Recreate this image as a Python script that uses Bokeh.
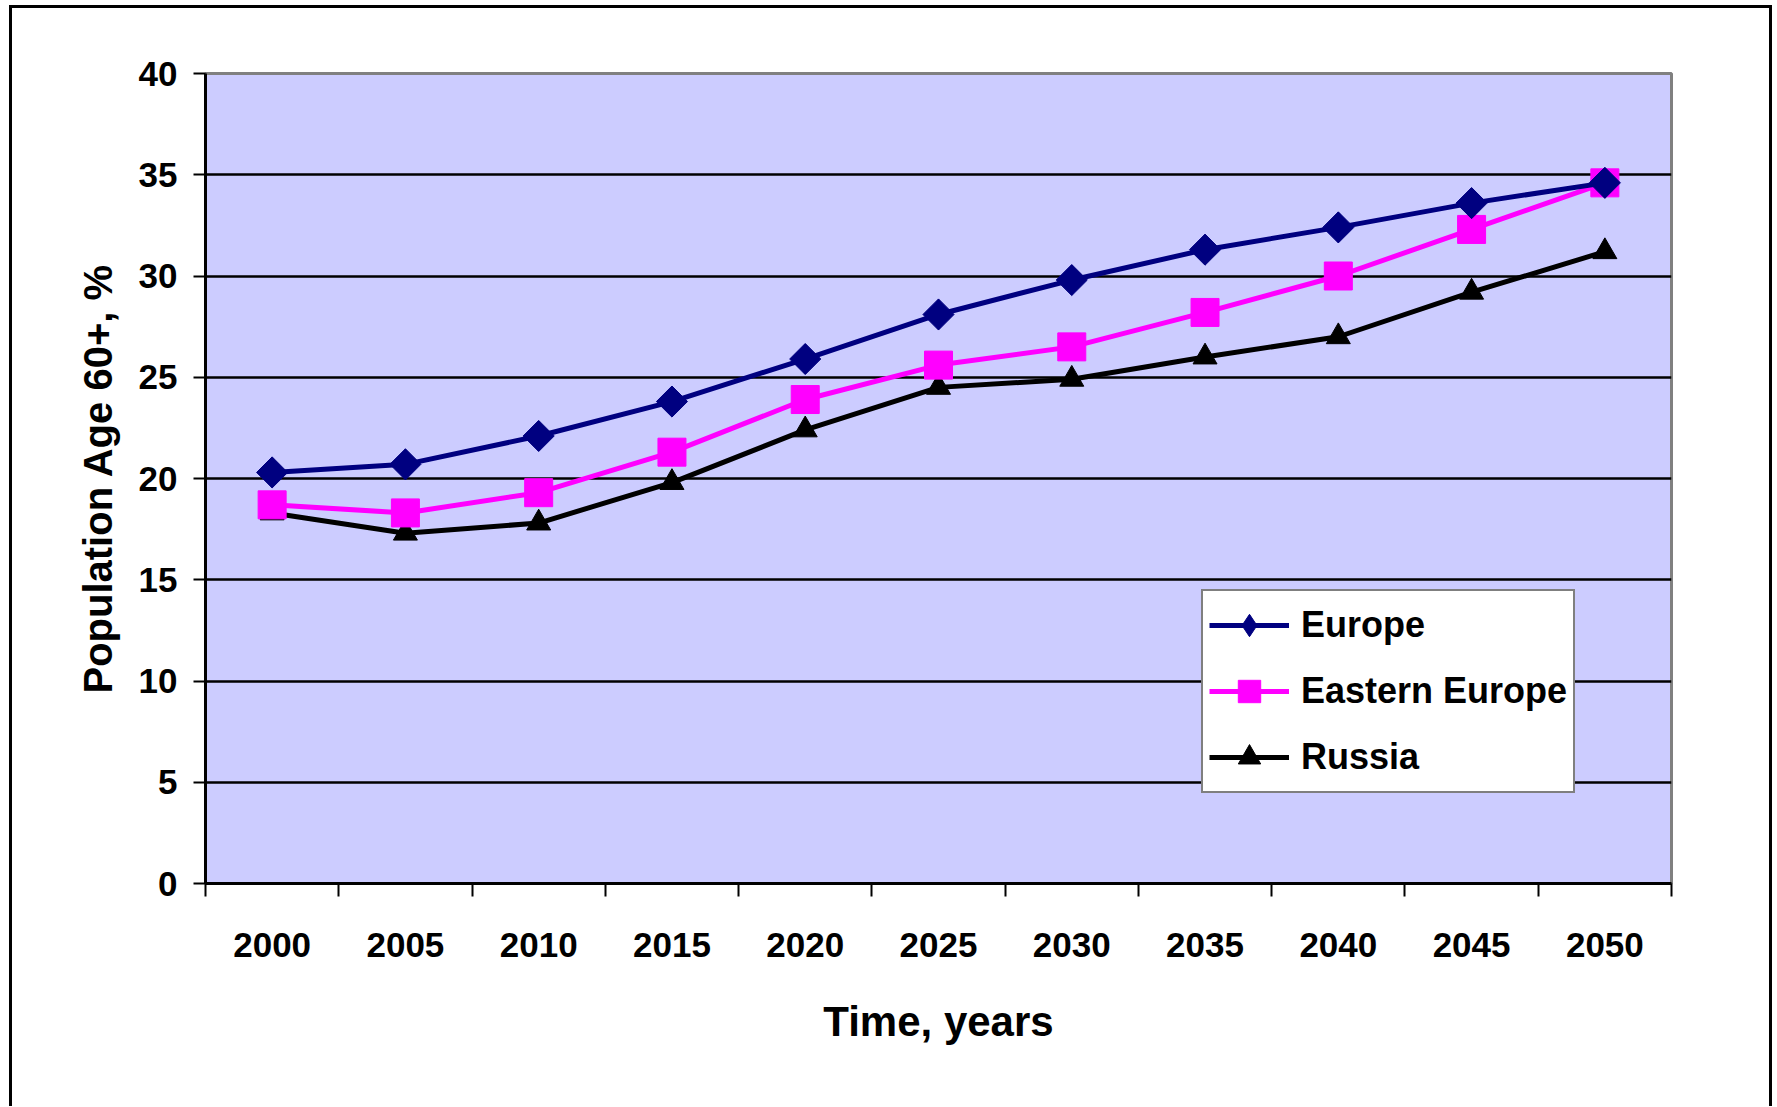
from bokeh.plotting import figure
from bokeh.models import FixedTicker, Legend, LegendItem, ColumnDataSource
from bokeh.embed import file_html
from bokeh.resources import INLINE
import math

years = ["2000", "2005", "2010", "2015", "2020", "2025", "2030", "2035", "2040", "2045", "2050"]
europe = [20.3, 20.7, 22.1, 23.8, 25.9, 28.1, 29.8, 31.3, 32.4, 33.6, 34.6]
eastern_europe = [18.7, 18.3, 19.3, 21.3, 23.9, 25.6, 26.5, 28.2, 30.0, 32.3, 34.6]
russia = [18.3, 17.3, 17.8, 19.8, 22.4, 24.5, 24.9, 26.0, 27.0, 29.2, 31.2]
y_ticks = [0, 5, 10, 15, 20, 25, 30, 35, 40]

xpos = [i + 0.5 for i in range(len(years))]
FONT = "Liberation Sans"

p = figure(frame_width=1466, frame_height=810,
           x_range=(0, len(years)), y_range=(0, 40),
           output_backend="svg", toolbar_location=None,
           min_border_left=193, min_border_right=98,
           min_border_top=65, min_border_bottom=223,
           background_fill_color="#CCCCFF", border_fill_color="white")
p.styles = {"border-left": "3px solid black", "border-top": "3px solid black",
            "border-right": "3px solid black",
            "margin-left": "9px", "margin-top": "5px"}

p.outline_line_color = "#808080"
p.outline_line_width = 3

p.xgrid.visible = False
p.ygrid.ticker = FixedTicker(ticks=y_ticks[1:-1])
p.ygrid.grid_line_color = "black"
p.ygrid.grid_line_width = 2.5

# x axis
xa = p.xaxis[0]
xa.ticker = FixedTicker(ticks=xpos, minor_ticks=list(range(len(years) + 1)))
xa.major_label_overrides = {x: y for x, y in zip(xpos, years)}
xa.major_tick_line_color = None
xa.major_tick_out = 0
xa.major_tick_in = 0
xa.minor_tick_line_color = "black"
xa.minor_tick_line_width = 2
xa.minor_tick_out = 13
xa.minor_tick_in = 0
xa.axis_line_color = "black"
xa.axis_line_width = 3
xa.major_label_text_font = FONT
xa.major_label_text_font_style = "bold"
xa.major_label_text_font_size = "35px"
xa.major_label_text_color = "black"
xa.major_label_standoff = 36
xa.axis_label = "Time, years"
xa.axis_label_text_font = FONT
xa.axis_label_text_font_style = "bold"
xa.axis_label_text_font_size = "42px"
xa.axis_label_text_color = "black"
xa.axis_label_standoff = 38

# y axis
ya = p.yaxis[0]
ya.ticker = FixedTicker(ticks=y_ticks)
ya.major_tick_line_color = "black"
ya.major_tick_line_width = 2
ya.major_tick_out = 12
ya.major_tick_in = 0
ya.minor_tick_line_color = None
ya.axis_line_color = "black"
ya.axis_line_width = 3
ya.major_label_text_font = FONT
ya.major_label_text_font_style = "bold"
ya.major_label_text_font_size = "35px"
ya.major_label_text_color = "black"
ya.major_label_standoff = 16
ya.axis_label = "Population Age 60+, %"
ya.axis_label_text_font = FONT
ya.axis_label_text_font_style = "bold"
ya.axis_label_text_font_size = "40px"
ya.axis_label_text_color = "black"
ya.axis_label_standoff = 16

src = ColumnDataSource(dict(x=xpos, eu=europe, ee=eastern_europe, ru=russia))

r_ru_l = p.line("x", "ru", source=src, line_color="black", line_width=5)
r_ru_m = p.scatter("x", "ru", source=src, marker="triangle", size=24,
                   fill_color="black", line_color="black")
r_ee_l = p.line("x", "ee", source=src, line_color="#FF00FF", line_width=5)
r_ee_m = p.scatter("x", "ee", source=src, marker="square", size=28,
                   fill_color="#FF00FF", line_color="#FF00FF")
r_eu_l = p.line("x", "eu", source=src, line_color="#000080", line_width=5)
# diamond used for the legend (legend markers are drawn unrotated); it sits
# hidden under the rotated-square markers drawn on top of it
r_eu_leg = p.scatter("x", "eu", source=src, marker="diamond", size=30,
                     fill_color="#000080", line_color="#000080")
r_eu_m = p.scatter("x", "eu", source=src, marker="square", size=22, angle=math.pi / 4,
                   fill_color="#000080", line_color="#000080")

legend = Legend(items=[
    LegendItem(label="Europe", renderers=[r_eu_l, r_eu_leg]),
    LegendItem(label="Eastern Europe", renderers=[r_ee_l, r_ee_m]),
    LegendItem(label="Russia", renderers=[r_ru_l, r_ru_m]),
], location=(996, 90))
legend.border_line_color = "black"
legend.border_line_width = 2
legend.background_fill_color = "white"
legend.background_fill_alpha = 1
legend.label_text_font = FONT
legend.label_text_font_style = "bold"
legend.label_text_font_size = "36px"
legend.label_text_color = "black"
legend.glyph_width = 80
legend.glyph_height = 56
legend.label_height = 56
legend.label_standoff = 12
legend.padding = 6
legend.spacing = 10
legend.margin = 0
p.add_layout(legend)

open("out.html", "w").write(file_html(p, INLINE))
